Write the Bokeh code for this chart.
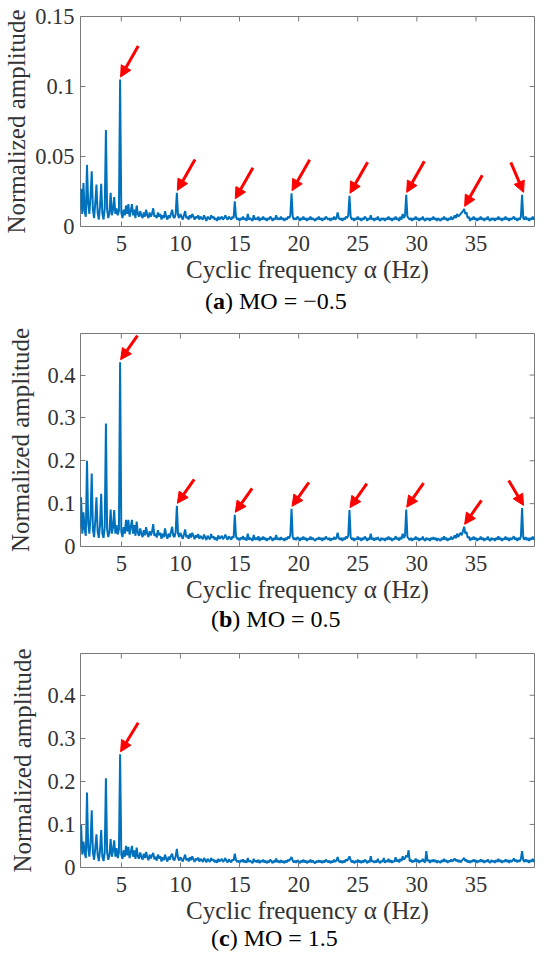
import numpy as np
from bokeh.plotting import figure
from bokeh.layouts import column
from bokeh.models import Arrow, NormalHead, FixedTicker, Range1d, Div
from bokeh.embed import file_html
from bokeh.resources import INLINE

# ---------------- data ----------------
freq_start = 1.5   # Hz, first sample of the cyclic-frequency grid
freq_step = 0.1    # Hz

# (a) MO = -0.5
amp_a = [
    0.012, 0.027, 0.009, 0.031, 0.011, 0.007, 0.044, 0.016, 0.009, 0.022,
    0.0395, 0.012, 0.006, 0.017, 0.030, 0.010, 0.005, 0.014, 0.0305, 0.009,
    0.005, 0.013, 0.069, 0.012, 0.006, 0.010, 0.024, 0.008, 0.012, 0.021,
    0.009, 0.013, 0.008, 0.011, 0.105, 0.010, 0.006, 0.012, 0.008, 0.015,
    0.009, 0.016, 0.007, 0.011, 0.016, 0.008, 0.012, 0.006, 0.015, 0.009,
    0.007, 0.011, 0.008, 0.006, 0.010, 0.007, 0.012, 0.008, 0.006, 0.010,
    0.007, 0.009, 0.013, 0.007, 0.008, 0.006, 0.010, 0.007, 0.009, 0.005,
    0.008, 0.006, 0.011, 0.007, 0.005, 0.008, 0.006, 0.009, 0.012, 0.007,
    0.006, 0.009, 0.024, 0.008, 0.006, 0.009, 0.007, 0.005, 0.008, 0.011,
    0.006, 0.007, 0.005, 0.008, 0.006, 0.009, 0.007, 0.005, 0.007, 0.006,
    0.008, 0.005, 0.007, 0.006, 0.005, 0.008, 0.006, 0.004, 0.007, 0.006,
    0.005, 0.008, 0.006, 0.007, 0.005, 0.006, 0.004, 0.007, 0.005, 0.006,
    0.007, 0.005, 0.006, 0.008, 0.006, 0.005, 0.007, 0.006, 0.005, 0.007,
    0.006, 0.018, 0.007, 0.005, 0.006, 0.004, 0.006, 0.005, 0.007, 0.005,
    0.006, 0.004, 0.009, 0.005, 0.006, 0.005, 0.004, 0.008, 0.005, 0.006,
    0.005, 0.007, 0.004, 0.006, 0.005, 0.007, 0.005, 0.006, 0.004, 0.006,
    0.005, 0.007, 0.006, 0.004, 0.006, 0.005, 0.008, 0.005, 0.006, 0.005,
    0.007, 0.005, 0.006, 0.004, 0.006, 0.005, 0.007, 0.006, 0.008, 0.0238,
    0.007, 0.005, 0.006, 0.005, 0.007, 0.006, 0.004, 0.006, 0.005, 0.007,
    0.005, 0.006, 0.004, 0.006, 0.005, 0.007, 0.005, 0.006, 0.005, 0.004,
    0.006, 0.005, 0.007, 0.005, 0.006, 0.004, 0.006, 0.005, 0.007, 0.006,
    0.005, 0.006, 0.004, 0.006, 0.005, 0.007, 0.005, 0.006, 0.010, 0.006,
    0.005, 0.006, 0.004, 0.006, 0.005, 0.007, 0.006, 0.008, 0.022, 0.007,
    0.005, 0.006, 0.004, 0.006, 0.005, 0.007, 0.005, 0.006, 0.004, 0.006,
    0.005, 0.007, 0.006, 0.004, 0.006, 0.005, 0.008, 0.005, 0.006, 0.004,
    0.006, 0.005, 0.007, 0.005, 0.004, 0.006, 0.005, 0.006, 0.004, 0.006,
    0.005, 0.007, 0.005, 0.006, 0.004, 0.006, 0.005, 0.007, 0.005, 0.006,
    0.004, 0.007, 0.005, 0.009, 0.006, 0.008, 0.0226, 0.007, 0.006, 0.005,
    0.006, 0.004, 0.006, 0.005, 0.007, 0.005, 0.006, 0.004, 0.006, 0.005,
    0.007, 0.005, 0.004, 0.006, 0.005, 0.006, 0.004, 0.006, 0.005, 0.007,
    0.005, 0.006, 0.004, 0.006, 0.005, 0.004, 0.006, 0.005, 0.007, 0.005,
    0.006, 0.004, 0.006, 0.005, 0.007, 0.005, 0.006, 0.008, 0.006, 0.009,
    0.007, 0.008, 0.009, 0.010, 0.011, 0.0126, 0.009, 0.010, 0.006, 0.007,
    0.004, 0.006, 0.005, 0.007, 0.005, 0.006, 0.004, 0.006, 0.005, 0.007,
    0.005, 0.006, 0.004, 0.006, 0.005, 0.007, 0.005, 0.004, 0.006, 0.005,
    0.006, 0.004, 0.006, 0.005, 0.007, 0.005, 0.006, 0.004, 0.006, 0.005,
    0.007, 0.005, 0.006, 0.004, 0.006, 0.005, 0.006, 0.007, 0.005, 0.006,
    0.004, 0.006, 0.005, 0.007, 0.0226, 0.006, 0.005, 0.007, 0.005, 0.006,
    0.004, 0.006, 0.005, 0.007, 0.005, 0.006,
]

# (b) MO = 0.5
amp_b = [
    0.045, 0.115, 0.030, 0.080, 0.040, 0.025, 0.200, 0.055, 0.030, 0.070,
    0.170, 0.040, 0.022, 0.060, 0.115, 0.035, 0.020, 0.050, 0.123, 0.030,
    0.020, 0.045, 0.287, 0.040, 0.022, 0.035, 0.086, 0.030, 0.045, 0.085,
    0.030, 0.050, 0.028, 0.040, 0.430, 0.035, 0.022, 0.045, 0.030, 0.062,
    0.035, 0.062, 0.028, 0.045, 0.062, 0.030, 0.050, 0.025, 0.058, 0.032,
    0.025, 0.042, 0.030, 0.022, 0.038, 0.026, 0.045, 0.030, 0.022, 0.036,
    0.026, 0.034, 0.052, 0.025, 0.030, 0.021, 0.038, 0.026, 0.032, 0.018,
    0.030, 0.022, 0.042, 0.026, 0.018, 0.030, 0.022, 0.034, 0.046, 0.025,
    0.022, 0.033, 0.095, 0.030, 0.022, 0.032, 0.025, 0.018, 0.028, 0.040,
    0.022, 0.026, 0.018, 0.030, 0.021, 0.032, 0.025, 0.017, 0.026, 0.021,
    0.029, 0.018, 0.025, 0.021, 0.017, 0.028, 0.021, 0.015, 0.025, 0.020,
    0.017, 0.029, 0.020, 0.024, 0.016, 0.021, 0.014, 0.026, 0.018, 0.021,
    0.025, 0.017, 0.021, 0.028, 0.020, 0.016, 0.024, 0.020, 0.016, 0.024,
    0.020, 0.074, 0.024, 0.017, 0.020, 0.014, 0.021, 0.017, 0.024, 0.016,
    0.020, 0.014, 0.030, 0.016, 0.020, 0.017, 0.013, 0.027, 0.016, 0.020,
    0.016, 0.024, 0.013, 0.020, 0.016, 0.023, 0.016, 0.020, 0.013, 0.019,
    0.016, 0.023, 0.019, 0.013, 0.020, 0.016, 0.027, 0.016, 0.020, 0.015,
    0.022, 0.016, 0.019, 0.013, 0.020, 0.016, 0.023, 0.019, 0.027, 0.088,
    0.022, 0.016, 0.020, 0.015, 0.022, 0.019, 0.013, 0.020, 0.016, 0.023,
    0.016, 0.020, 0.013, 0.019, 0.016, 0.023, 0.016, 0.020, 0.016, 0.013,
    0.019, 0.016, 0.022, 0.016, 0.020, 0.013, 0.020, 0.016, 0.023, 0.019,
    0.016, 0.020, 0.013, 0.019, 0.016, 0.022, 0.017, 0.020, 0.032, 0.019,
    0.016, 0.020, 0.013, 0.020, 0.016, 0.023, 0.019, 0.026, 0.085, 0.022,
    0.016, 0.020, 0.013, 0.019, 0.016, 0.023, 0.016, 0.020, 0.013, 0.020,
    0.016, 0.023, 0.019, 0.013, 0.020, 0.016, 0.030, 0.016, 0.020, 0.014,
    0.020, 0.016, 0.022, 0.016, 0.013, 0.020, 0.016, 0.019, 0.013, 0.020,
    0.016, 0.023, 0.016, 0.020, 0.013, 0.019, 0.016, 0.024, 0.017, 0.020,
    0.014, 0.022, 0.017, 0.030, 0.020, 0.026, 0.086, 0.022, 0.019, 0.015,
    0.020, 0.013, 0.019, 0.016, 0.023, 0.016, 0.020, 0.013, 0.019, 0.016,
    0.023, 0.016, 0.013, 0.020, 0.016, 0.019, 0.013, 0.020, 0.016, 0.022,
    0.016, 0.020, 0.013, 0.019, 0.016, 0.013, 0.020, 0.016, 0.024, 0.016,
    0.020, 0.013, 0.019, 0.016, 0.023, 0.017, 0.020, 0.026, 0.019, 0.030,
    0.022, 0.028, 0.032, 0.026, 0.036, 0.046, 0.030, 0.034, 0.020, 0.023,
    0.014, 0.020, 0.016, 0.023, 0.016, 0.020, 0.013, 0.019, 0.016, 0.023,
    0.016, 0.020, 0.013, 0.019, 0.016, 0.023, 0.016, 0.013, 0.020, 0.016,
    0.019, 0.013, 0.020, 0.016, 0.024, 0.016, 0.020, 0.013, 0.019, 0.016,
    0.023, 0.016, 0.020, 0.013, 0.020, 0.016, 0.019, 0.024, 0.016, 0.020,
    0.013, 0.020, 0.016, 0.024, 0.090, 0.020, 0.016, 0.022, 0.015, 0.020,
    0.013, 0.020, 0.016, 0.023, 0.016, 0.020,
]

# (c) MO = 1.5
amp_c = [
    0.040, 0.100, 0.030, 0.060, 0.035, 0.022, 0.174, 0.045, 0.025, 0.060,
    0.133, 0.035, 0.018, 0.045, 0.077, 0.030, 0.015, 0.040, 0.087, 0.025,
    0.015, 0.035, 0.207, 0.035, 0.018, 0.030, 0.066, 0.025, 0.040, 0.063,
    0.025, 0.045, 0.022, 0.035, 0.263, 0.030, 0.020, 0.040, 0.025, 0.050,
    0.028, 0.048, 0.022, 0.035, 0.050, 0.025, 0.040, 0.020, 0.046, 0.026,
    0.020, 0.035, 0.025, 0.018, 0.032, 0.022, 0.036, 0.024, 0.017, 0.030,
    0.021, 0.028, 0.034, 0.019, 0.025, 0.016, 0.030, 0.021, 0.026, 0.014,
    0.024, 0.017, 0.030, 0.020, 0.014, 0.025, 0.018, 0.027, 0.032, 0.019,
    0.017, 0.026, 0.043, 0.022, 0.016, 0.024, 0.019, 0.014, 0.022, 0.030,
    0.017, 0.021, 0.014, 0.024, 0.017, 0.026, 0.019, 0.013, 0.021, 0.017,
    0.023, 0.014, 0.020, 0.017, 0.013, 0.022, 0.017, 0.012, 0.020, 0.016,
    0.013, 0.022, 0.016, 0.019, 0.012, 0.017, 0.011, 0.020, 0.014, 0.017,
    0.020, 0.013, 0.016, 0.022, 0.015, 0.012, 0.019, 0.015, 0.012, 0.019,
    0.016, 0.032, 0.018, 0.013, 0.016, 0.011, 0.017, 0.013, 0.019, 0.012,
    0.016, 0.011, 0.022, 0.013, 0.016, 0.013, 0.010, 0.020, 0.013, 0.016,
    0.012, 0.018, 0.010, 0.016, 0.013, 0.018, 0.012, 0.016, 0.010, 0.015,
    0.012, 0.018, 0.015, 0.010, 0.016, 0.012, 0.021, 0.012, 0.016, 0.011,
    0.017, 0.012, 0.015, 0.010, 0.016, 0.012, 0.018, 0.015, 0.020, 0.024,
    0.016, 0.012, 0.016, 0.011, 0.017, 0.014, 0.010, 0.016, 0.012, 0.018,
    0.012, 0.016, 0.010, 0.015, 0.012, 0.018, 0.012, 0.016, 0.012, 0.010,
    0.015, 0.012, 0.017, 0.012, 0.016, 0.010, 0.016, 0.012, 0.018, 0.015,
    0.012, 0.016, 0.010, 0.015, 0.012, 0.018, 0.013, 0.016, 0.024, 0.015,
    0.012, 0.016, 0.010, 0.016, 0.012, 0.019, 0.015, 0.020, 0.026, 0.017,
    0.012, 0.016, 0.010, 0.015, 0.012, 0.018, 0.012, 0.016, 0.010, 0.016,
    0.012, 0.018, 0.015, 0.010, 0.016, 0.012, 0.026, 0.013, 0.016, 0.011,
    0.016, 0.012, 0.020, 0.013, 0.010, 0.016, 0.013, 0.022, 0.011, 0.016,
    0.013, 0.020, 0.012, 0.017, 0.011, 0.016, 0.013, 0.024, 0.014, 0.018,
    0.012, 0.020, 0.015, 0.026, 0.018, 0.022, 0.028, 0.024, 0.040, 0.014,
    0.018, 0.012, 0.016, 0.013, 0.021, 0.013, 0.018, 0.011, 0.016, 0.014,
    0.020, 0.014, 0.012, 0.038, 0.015, 0.018, 0.011, 0.017, 0.013, 0.019,
    0.013, 0.017, 0.011, 0.016, 0.013, 0.011, 0.017, 0.013, 0.020, 0.014,
    0.017, 0.011, 0.016, 0.013, 0.019, 0.014, 0.017, 0.021, 0.015, 0.018,
    0.013, 0.017, 0.012, 0.016, 0.019, 0.022, 0.015, 0.018, 0.012, 0.016,
    0.011, 0.016, 0.013, 0.019, 0.013, 0.017, 0.011, 0.016, 0.013, 0.019,
    0.013, 0.017, 0.011, 0.016, 0.013, 0.019, 0.013, 0.011, 0.017, 0.013,
    0.016, 0.011, 0.017, 0.013, 0.020, 0.013, 0.017, 0.011, 0.016, 0.013,
    0.019, 0.013, 0.017, 0.011, 0.017, 0.013, 0.016, 0.021, 0.014, 0.018,
    0.012, 0.017, 0.014, 0.020, 0.038, 0.017, 0.013, 0.019, 0.013, 0.017,
    0.011, 0.017, 0.014, 0.020, 0.013, 0.018,
]

x_ticks = [5, 10, 15, 20, 25, 30, 35]
x_tick_labels = ["5", "10", "15", "20", "25", "30", "35"]
y_ticks_a = [0, 0.05, 0.1, 0.15]
y_tick_labels_a = ["0", "0.05", "0.1", "0.15"]
y_ticks_bc = [0, 0.1, 0.2, 0.3, 0.4]
y_tick_labels_bc = ["0", "0.1", "0.2", "0.3", "0.4"]

# peaks marked with red arrows (Hz)
arrow_peaks_ab = [4.9, 9.7, 14.6, 19.4, 24.3, 29.1, 34.0, 38.9]
arrow_peaks_c = [4.9]

x_label = "Cyclic frequency \u03b1 (Hz)"
y_label = "Normalized amplitude"
captions = [("a", "MO = \u22120.5"), ("b", "MO = 0.5"), ("c", "MO = 1.5")]

assert len(amp_a) == len(amp_b) == len(amp_c) == 386, (len(amp_a), len(amp_b), len(amp_c))
freq = np.round(freq_start + freq_step * np.arange(len(amp_a)), 2)

# ---------------- style ----------------
SERIF = "Liberation Serif"
BLUE = "#0072BD"
RED = "#FF0000"
AXC = "#7a7a7a"
TXT = "#333333"
X_RANGE = (1.55, 39.95)
W = 550


def make_panel(amp, y_max, y_ticks, y_tick_labels, peaks, bl, fw, bt, fh, bb,
               tick_standoff, ylab_standoff, tail_left, tail_right):
    H = bt + fh + bb
    br = W - bl - fw
    x0, x1 = X_RANGE
    px_x = (x1 - x0) / fw      # data units per pixel
    px_y = y_max / fh
    p = figure(width=W, height=H, x_range=Range1d(x0, x1), y_range=Range1d(0, y_max),
               output_backend="svg", toolbar_location=None, title=None,
               min_border_left=bl, min_border_right=br,
               min_border_top=bt, min_border_bottom=bb)
    p.background_fill_color = "white"
    p.border_fill_color = "white"
    p.outline_line_color = AXC
    p.outline_line_width = 1
    p.xgrid.visible = False
    p.ygrid.visible = False

    p.line(freq, amp, line_color=BLUE, line_width=2)

    xa = p.xaxis[0]
    xa.ticker = FixedTicker(ticks=x_ticks)
    xa.major_label_overrides = {t: l for t, l in zip(x_ticks, x_tick_labels)}
    ya = p.yaxis[0]
    ya.ticker = FixedTicker(ticks=y_ticks)
    ya.major_label_overrides = {t: l for t, l in zip(y_ticks, y_tick_labels)}
    for ax in (xa, ya):
        ax.axis_line_color = None
        ax.minor_tick_line_color = None
        ax.major_tick_in = 5
        ax.major_tick_out = 0
        ax.major_tick_line_color = AXC
        ax.major_label_text_font = SERIF
        ax.major_label_text_font_size = "22.5px"
        ax.major_label_text_color = TXT
        ax.axis_label_text_font = SERIF
        ax.axis_label_text_font_size = "25px"
        ax.axis_label_text_font_style = "normal"
        ax.axis_label_text_color = TXT
    xa.major_label_standoff = 9
    xa.axis_label = x_label
    xa.axis_label_standoff = 2
    ya.major_label_standoff = tick_standoff
    ya.axis_label = y_label
    ya.axis_label_standoff = ylab_standoff

    # box ticks on top and right edges
    p.segment(x0=x_ticks, y0=[y_max] * len(x_ticks), x1=x_ticks,
              y1=[y_max - 5 * px_y] * len(x_ticks), line_color=AXC, line_width=1)
    p.segment(x0=[x1] * len(y_ticks), y0=y_ticks, x1=[x1 - 5 * px_x] * len(y_ticks),
              y1=y_ticks, line_color=AXC, line_width=1)

    # arrows pointing at the marked peaks
    for f in peaks:
        i = int(np.argmin(np.abs(freq - f)))
        pk_x, pk_y = freq[i], amp[i]
        if f > 38:
            tx, ty = pk_x + 1.5 * px_x, pk_y + 2.5 * px_y
            sx, sy = tx + tail_right[0] * px_x, ty + tail_right[1] * px_y
        else:
            tx, ty = pk_x + 0.5 * px_x, pk_y + 2.5 * px_y
            sx, sy = tx + tail_left[0] * px_x, ty + tail_left[1] * px_y
        p.add_layout(Arrow(end=NormalHead(size=11, fill_color=RED, line_color=RED, line_width=1),
                           x_start=sx, y_start=sy, x_end=tx, y_end=ty,
                           line_color=RED, line_width=3))
    return p


def make_caption(cap, height, line_height, indent):
    letter, rest = cap
    return Div(text=f"(<b>{letter}</b>) {rest}", width=W, height=height,
               styles={"font-family": "'Liberation Serif', serif", "font-size": "24px",
                       "color": "#000000", "line-height": f"{line_height}px",
                       "text-indent": f"{indent}px", "white-space": "nowrap",
                       "margin": "0", "padding": "0"})


pa = make_panel(amp_a, 0.15, y_ticks_a, y_tick_labels_a, arrow_peaks_ab,
                bl=80, fw=463, bt=16, fh=210, bb=64, tick_standoff=6, ylab_standoff=2,
                tail_left=(18, 31), tail_right=(-13, 30))
ca = make_caption(captions[0], 28, 22, 205)
pb = make_panel(amp_b, 0.497, y_ticks_bc, y_tick_labels_bc, arrow_peaks_ab,
                bl=76, fw=458, bt=15, fh=213, bb=64, tick_standoff=5, ylab_standoff=10,
                tail_left=(17, 24), tail_right=(-15, 25))
cb = make_caption(captions[1], 30, 18, 211)
pc = make_panel(amp_c, 0.497, y_ticks_bc, y_tick_labels_bc, arrow_peaks_c,
                bl=73, fw=464, bt=13, fh=214, bb=64, tick_standoff=5, ylab_standoff=8,
                tail_left=(18, 29), tail_right=(-15, 25))
cc = make_caption(captions[2], 30, 15, 211)

layout = column(pa, ca, pb, cb, pc, cc, spacing=0)
open("out.html", "w").write(file_html(layout, INLINE))
